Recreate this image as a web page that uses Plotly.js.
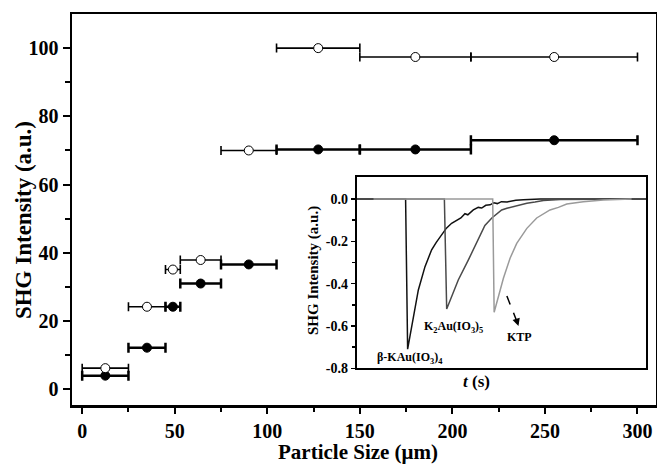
<!DOCTYPE html>
<html>
<head>
<meta charset="utf-8">
<script src="https://cdn.plot.ly/plotly-3.0.1.min.js"></script>
<style>html,body{margin:0;padding:0;background:#fff;}#chart{width:657px;height:464px;}</style>
</head>
<body>
<div id="chart"></div>
<script>
// ---- Main chart data (particle size bins, SHG intensity) ----
const sizeMid   = [12.5, 35, 49, 64, 90, 127.5, 180, 255];
const binLow    = [0, 25, 45, 53, 75, 105, 150, 210];
const binHigh   = [25, 45, 53, 75, 105, 150, 210, 300];
const openSHG   = [6.2, 24.2, 35.1, 37.9, 70.0, 100.0, 97.4, 97.4];
const filledSHG = [4.0, 12.2, 24.2, 31.0, 36.6, 70.3, 70.3, 73.0];

// ---- Axis tick labels ----
const xTickVals  = [0, 50, 100, 150, 200, 250, 300];
const xTickText  = ["0", "50", "100", "150", "200", "250", "300"];
const xMinorVals = [25, 75, 125, 175, 225, 275];
const yTickVals  = [0, 20, 40, 60, 80, 100];
const yTickText  = ["0", "20", "40", "60", "80", "100"];
const yMinorVals = [10, 30, 50, 70, 90];

// ---- Inset oscilloscope traces ----
const tBeta = [0, 16.9, 17.6, 18.4, 19.6, 21.3, 23.6, 25.9, 27.5, 29.4, 31.0, 32.8, 34.6, 36.0, 37.4, 38.4, 40.3, 42.0, 43.2, 44.6, 46.1, 47.4, 48.6, 50.0, 52.0, 55.0, 57.6, 63.4, 100];
const yBeta = [0, 0, -0.71, -0.65, -0.556, -0.43, -0.32, -0.24, -0.205, -0.17, -0.138, -0.115, -0.099, -0.09, -0.07, -0.075, -0.052, -0.04, -0.043, -0.03, -0.028, -0.018, -0.022, -0.013, -0.014, -0.006, -0.004, 0, 0];
const tK2 = [0, 30.3, 31.1, 32.8, 35.1, 38.6, 42.0, 44.3, 46.7, 50.1, 51.9, 55.9, 58.8, 61.6, 64.5, 70.3, 100];
const yK2 = [0, 0, -0.52, -0.462, -0.383, -0.288, -0.19, -0.125, -0.09, -0.052, -0.044, -0.028, -0.02, -0.015, -0.008, -0.003, 0];
const tKTP = [5.8, 47.0, 47.5, 48.9, 50.7, 53.0, 55.3, 58.8, 62.2, 66.8, 69.7, 72.6, 78.3, 85.2, 92.7, 95.0];
const yKTP = [0, 0, -0.535, -0.465, -0.375, -0.28, -0.21, -0.139, -0.09, -0.052, -0.04, -0.024, -0.013, -0.005, -0.002, 0];

const insetTickVals  = [0, -0.2, -0.4, -0.6, -0.8];
const insetTickText  = ["0.0", "-0.2", "-0.4", "-0.6", "-0.8"];
const insetMinorVals = [-0.1, -0.3, -0.5, -0.7];

const FF = "Liberation Serif, Times New Roman, serif";
const bold = arr => arr.map(s => '<b>' + s + '</b>');
const errPlus = sizeMid.map((m, i) => binHigh[i] - m);
const errMinus = sizeMid.map((m, i) => m - binLow[i]);

const traces = [
  {
    x: sizeMid, y: filledSHG, type: 'scatter', mode: 'markers',
    marker: {symbol: 'circle', size: 9, color: '#000', line: {color: '#000', width: 1}},
    error_x: {type: 'data', symmetric: false, array: errPlus, arrayminus: errMinus,
              color: '#000', thickness: 2.5, width: 5},
    xaxis: 'x', yaxis: 'y', hoverinfo: 'skip'
  },
  {
    x: sizeMid, y: openSHG, type: 'scatter', mode: 'markers',
    marker: {symbol: 'circle', size: 9, color: '#fff', line: {color: '#000', width: 1}},
    error_x: {type: 'data', symmetric: false, array: errPlus, arrayminus: errMinus,
              color: '#000', thickness: 1.6, width: 4.5},
    xaxis: 'x', yaxis: 'y', hoverinfo: 'skip'
  },
  {x: tBeta, y: yBeta, type: 'scatter', mode: 'lines', line: {color: '#111', width: 1.5}, xaxis: 'x2', yaxis: 'y2', hoverinfo: 'skip'},
  {x: tK2, y: yK2, type: 'scatter', mode: 'lines', line: {color: '#4a4a4a', width: 1.5}, xaxis: 'x2', yaxis: 'y2', hoverinfo: 'skip'},
  {x: tKTP, y: yKTP, type: 'scatter', mode: 'lines', line: {color: '#9a9a9a', width: 1.5}, xaxis: 'x2', yaxis: 'y2', hoverinfo: 'skip'}
];

const tickFont = {family: FF, size: 20, color: '#000', weight: 700};
const layout = {
  width: 657, height: 464,
  margin: {l: 72, r: 1, t: 14, b: 59},
  paper_bgcolor: '#fff', plot_bgcolor: '#fff',
  showlegend: false,
  font: {family: FF, color: '#000'},
  xaxis: {
    domain: [0, 1], range: [-5.5, 310],
    tickmode: 'array', tickvals: xTickVals, ticktext: bold(xTickText),
    ticks: 'outside', ticklen: 6, tickwidth: 2, tickcolor: '#000',
    minor: {tickmode: 'array', tickvals: xMinorVals, ticks: 'outside', ticklen: 4, tickwidth: 2, tickcolor: '#000', showgrid: false},
    showline: true, linewidth: 2.5, linecolor: '#000', mirror: true,
    showgrid: false, zeroline: false, tickfont: tickFont,
    automargin: false
  },
  yaxis: {
    domain: [0, 1], range: [-4.6, 110],
    tickmode: 'array', tickvals: yTickVals, ticktext: bold(yTickText),
    ticks: 'outside', ticklen: 7, tickwidth: 2, tickcolor: '#000',
    minor: {tickmode: 'array', tickvals: yMinorVals, ticks: 'outside', ticklen: 5, tickwidth: 2, tickcolor: '#000', showgrid: false},
    showline: true, linewidth: 2.5, linecolor: '#000', mirror: true,
    showgrid: false, zeroline: false, tickfont: tickFont,
    automargin: false
  },
  xaxis2: {
    domain: [0.4875, 0.983], anchor: 'y2', range: [0, 100],
    showticklabels: false, ticks: '', showline: true, linewidth: 2, linecolor: '#000', mirror: true,
    showgrid: false, zeroline: false,
    automargin: false
  },
  yaxis2: {
    domain: [0.0939, 0.5839], anchor: 'x2', range: [-0.8, 0.105],
    tickmode: 'array', tickvals: insetTickVals, ticktext: bold(insetTickText),
    ticks: 'outside', ticklen: 4, tickwidth: 1.5, tickcolor: '#000',
    minor: {tickmode: 'array', tickvals: insetMinorVals, ticks: 'outside', ticklen: 3, tickwidth: 1.5, tickcolor: '#000', showgrid: false},
    showline: true, linewidth: 2, linecolor: '#000', mirror: true,
    showgrid: false, zeroline: false,
    tickfont: {family: FF, size: 14, color: '#000', weight: 700},
    automargin: false
  },
  annotations: [
    // main axis titles
    {xref: 'paper', yref: 'paper', x: 0.4889, y: -0.121, text: '<b>Particle Size (\u03bcm)</b>', showarrow: false,
     font: {family: FF, size: 21, color: '#000', weight: 700}, xanchor: 'center', yanchor: 'middle'},
    {xref: 'paper', yref: 'paper', x: -0.0839, y: 0.473, text: '<b>SHG Intensity (a.u.)</b>', showarrow: false, textangle: -90,
     font: {family: FF, size: 23, color: '#000', weight: 700}, xanchor: 'center', yanchor: 'middle'},
    // inset axis titles
    {xref: 'paper', yref: 'paper', x: 0.4127, y: 0.3427, text: '<b>SHG Intensity (a.u.)</b>', showarrow: false, textangle: -90,
     font: {family: FF, size: 15, color: '#000', weight: 700}, xanchor: 'center', yanchor: 'middle'},
    {xref: 'x2', yref: 'paper', x: 41.5, y: 0.0596, text: '<b><i>t</i> (s)</b>', showarrow: false,
     font: {family: FF, size: 17, color: '#000', weight: 700}, xanchor: 'center', yanchor: 'middle'},
    // inset curve labels
    {xref: 'x2', yref: 'y2', x: 18.4, y: -0.753, text: '<b>\u03b2-KAu(IO<sub>3</sub>)<sub>4</sub></b>', showarrow: false,
     font: {family: FF, size: 12, color: '#000', weight: 700}, xanchor: 'center', yanchor: 'middle'},
    {xref: 'x2', yref: 'y2', x: 33.4, y: -0.604, text: '<b>K<sub>2</sub>Au(IO<sub>3</sub>)<sub>5</sub></b>', showarrow: false,
     font: {family: FF, size: 12, color: '#000', weight: 700}, xanchor: 'center', yanchor: 'middle'},
    {xref: 'x2', yref: 'y2', x: 56.1, y: -0.654, text: '<b>KTP</b>', showarrow: false,
     font: {family: FF, size: 12, color: '#000', weight: 700}, xanchor: 'center', yanchor: 'middle'},
    {xref: 'x2', yref: 'y2', axref: 'x2', ayref: 'y2', x: 55.9, y: -0.60, ax: 55.2, ay: -0.57, text: '',
     showarrow: true, arrowhead: 2, arrowsize: 1, arrowwidth: 1.5, arrowcolor: '#000'}
  ],
  shapes: [
    {type: 'line', xref: 'x2', yref: 'y2', x0: 51.9, y0: -0.459, x1: 55.4, y1: -0.58,
     line: {color: '#000', width: 1.5, dash: 'dash'}}
  ]
};

Plotly.newPlot('chart', traces, layout, {displayModeBar: false, staticPlot: true});
</script>
</body>
</html>
